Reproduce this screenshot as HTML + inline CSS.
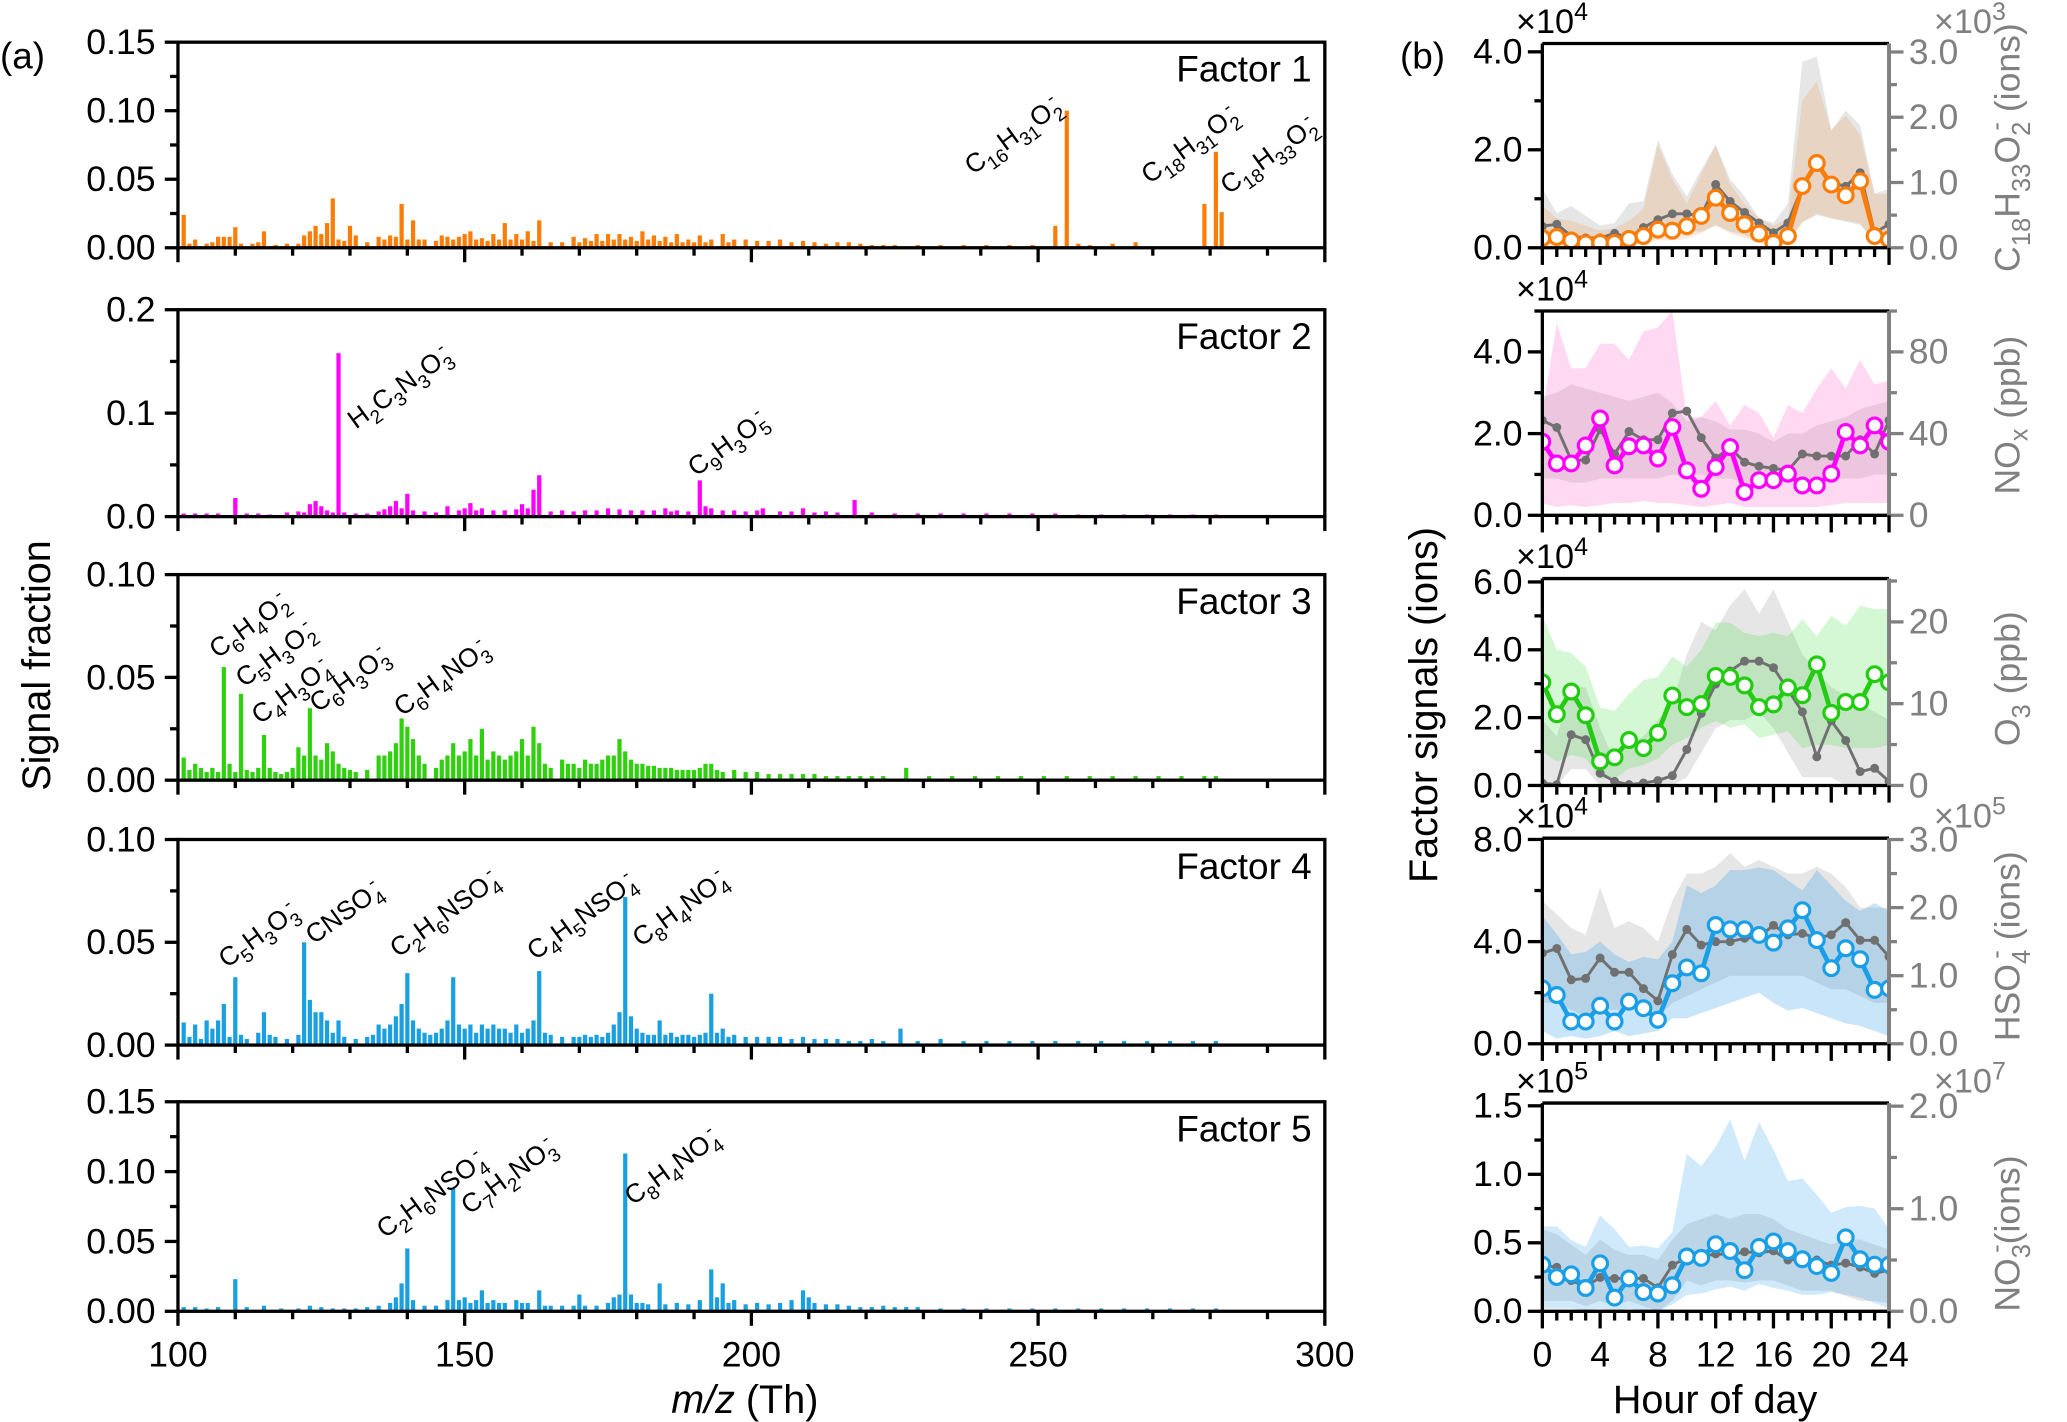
<!DOCTYPE html>
<html><head><meta charset="utf-8"><title>PMF factors</title>
<style>
html,body{margin:0;padding:0;background:#fff;}
svg{display:block;font-family:"Liberation Sans",Arial,sans-serif;}
</style></head>
<body>
<svg id="fig" width="2067" height="1422" viewBox="0 0 1568 1079" preserveAspectRatio="none" xmlns="http://www.w3.org/2000/svg">
<defs id="defs"></defs>
<text x="0" y="52" font-size="28">(a)</text>
<text x="1062" y="52" font-size="28">(b)</text>
<text transform="translate(38,505) rotate(-90)" text-anchor="middle" font-size="30">Signal fraction</text>
<text transform="translate(1090,535) rotate(-90)" text-anchor="middle" font-size="30">Factor signals (ions)</text>
<text x="565" y="1072" text-anchor="middle" font-size="30"><tspan font-style="italic">m/z</tspan> (Th)</text>
<text x="1301" y="1072" text-anchor="middle" font-size="30">Hour of day</text>
</svg>
<script>
// ---------- Panel (a) data: m/z and signal fraction ----------
const mz1 = [101,102,103,105,106,107,108,109,110,111,113,114,115,117,119,121,122,123,124,125,126,127,128,129,130,131,133,135,136,137,138,139,140,141,142,143,145,146,147,148,149,150,151,152,153,154,155,156,157,158,159,160,161,162,163,165,167,169,170,171,172,173,174,175,176,177,178,179,180,181,182,183,184,185,186,187,188,189,190,191,192,193,195,196,197,199,201,203,205,207,209,211,213,215,217,219,221,223,225,229,233,237,241,245,249,253,255,257,259,263,267,279,281,282];
const val1 = [.024,.003,.006,.003,.004,.008,.008,.008,.015,.003,.003,.004,.012,.002,.003,.003,.009,.012,.016,.01,.018,.036,.006,.005,.016,.009,.004,.008,.006,.009,.008,.032,.006,.02,.006,.006,.005,.009,.008,.006,.008,.01,.012,.006,.007,.005,.01,.006,.018,.006,.01,.006,.012,.005,.02,.004,.004,.008,.004,.007,.005,.01,.005,.01,.006,.01,.006,.008,.005,.012,.006,.009,.005,.008,.004,.01,.004,.006,.004,.009,.004,.006,.01,.004,.006,.006,.005,.005,.006,.004,.005,.004,.003,.004,.004,.003,.002,.002,.002,.002,.002,.002,.002,.002,.002,.016,.1,.003,.002,.003,.004,.032,.07,.026];
const mz2 = [101,103,105,107,110,112,114,116,119,121,122,123,124,125,126,127,128,129,131,133,135,136,137,138,139,140,141,143,145,147,149,150,151,152,153,155,157,159,160,161,162,163,165,167,169,171,173,175,177,179,181,183,185,186,187,189,191,192,193,195,197,199,201,202,205,207,209,211,213,215,218,221,225,229,233,237,241,245,249,253,257,261,265,269,273,277,281];
const val2 = [.003,.003,.003,.003,.018,.003,.003,.002,.004,.005,.004,.012,.015,.01,.006,.004,.158,.004,.003,.003,.005,.007,.01,.015,.008,.022,.006,.005,.004,.01,.006,.008,.013,.006,.008,.006,.006,.007,.012,.008,.026,.04,.005,.006,.005,.006,.006,.008,.007,.006,.006,.006,.008,.005,.006,.005,.035,.01,.008,.006,.006,.005,.006,.008,.005,.005,.008,.004,.005,.004,.016,.004,.003,.003,.003,.003,.003,.003,.003,.003,.002,.002,.002,.002,.002,.002,.002];
const mz3 = [101,102,103,104,105,106,107,108,109,110,111,112,113,114,115,116,117,118,119,120,121,122,123,124,125,126,127,128,129,130,131,133,135,136,137,138,139,140,141,142,143,145,146,147,148,149,150,151,152,153,154,155,156,157,158,159,160,161,162,163,164,165,167,168,169,170,171,172,173,174,175,176,177,178,179,180,181,182,183,184,185,186,187,188,189,190,191,192,193,194,195,197,199,201,203,205,207,209,211,213,215,217,219,221,223,227,231,235,239,243,247,251,255,259,263,267,271,275,279,281];
const val3 = [.011,.005,.008,.006,.004,.006,.004,.055,.008,.004,.042,.005,.004,.006,.022,.006,.004,.003,.004,.006,.016,.012,.035,.012,.01,.018,.014,.008,.006,.005,.004,.005,.012,.012,.014,.018,.03,.026,.02,.012,.008,.006,.01,.012,.018,.012,.014,.02,.012,.025,.01,.014,.012,.01,.012,.014,.02,.012,.026,.018,.008,.006,.01,.008,.008,.006,.01,.008,.008,.01,.012,.012,.02,.014,.01,.008,.008,.007,.007,.006,.006,.006,.005,.005,.005,.005,.006,.008,.008,.005,.004,.005,.004,.004,.003,.003,.003,.003,.003,.002,.002,.002,.002,.002,.002,.006,.002,.002,.002,.002,.002,.002,.002,.002,.002,.002,.002,.002,.002,.002];
const mz4 = [101,102,103,104,105,106,107,108,109,110,111,112,114,115,116,117,119,121,122,123,124,125,126,127,128,129,131,133,134,135,136,137,138,139,140,141,142,143,144,145,146,147,148,149,150,151,152,153,154,155,156,157,158,159,160,161,162,163,164,165,167,169,170,171,172,173,174,175,176,177,178,179,180,181,182,183,184,185,186,187,188,189,190,191,192,193,194,195,196,197,199,201,203,205,207,209,211,213,215,217,219,221,223,226,229,233,237,241,245,249,253,257,261,265,269,273,277,281];
const val4 = [.011,.004,.01,.003,.012,.008,.012,.02,.004,.033,.005,.003,.006,.016,.005,.004,.003,.005,.05,.022,.016,.016,.012,.006,.012,.004,.003,.004,.005,.01,.008,.01,.014,.02,.035,.012,.008,.006,.005,.006,.008,.012,.033,.01,.008,.01,.006,.01,.008,.01,.008,.008,.006,.01,.006,.008,.012,.036,.006,.005,.004,.004,.004,.005,.004,.005,.004,.006,.01,.016,.072,.014,.008,.006,.005,.005,.012,.005,.006,.004,.005,.005,.004,.005,.006,.025,.006,.008,.004,.005,.004,.004,.004,.004,.003,.004,.003,.003,.003,.002,.002,.003,.002,.008,.002,.003,.002,.002,.002,.002,.002,.002,.002,.002,.002,.002,.002,.002];
const mz5 = [101,103,105,107,110,112,115,118,121,123,125,127,129,131,133,135,137,138,139,140,141,143,145,147,148,149,150,151,152,153,154,155,156,157,159,160,161,163,164,165,167,169,170,171,173,175,176,177,178,179,180,181,182,184,185,187,189,191,193,194,195,196,197,199,201,203,205,207,209,210,211,213,215,217,219,221,223,225,227,229,233,237,241,245,249,253,257,261,265,269,273,277,281];
const val5 = [.003,.003,.002,.003,.023,.003,.004,.002,.002,.004,.003,.002,.002,.002,.003,.004,.006,.01,.02,.045,.008,.004,.004,.008,.088,.008,.01,.006,.008,.015,.006,.008,.006,.006,.008,.006,.006,.015,.004,.004,.004,.004,.012,.004,.004,.006,.01,.012,.113,.012,.006,.006,.005,.02,.005,.006,.005,.008,.03,.01,.02,.006,.008,.005,.006,.005,.006,.008,.015,.01,.006,.005,.005,.004,.003,.003,.004,.003,.003,.003,.002,.002,.002,.002,.002,.002,.002,.002,.002,.002,.002,.002,.002];
const mzTicks = [100,150,200,250,300];
const factorNames = ["Factor 1","Factor 2","Factor 3","Factor 4","Factor 5"];

// ---------- Panel (b) data: hour-of-day diurnal ----------
const hours = [0,1,2,3,4,5,6,7,8,9,10,11,12,13,14,15,16,17,18,19,20,21,22,23,24];
const hourTicks = [0,4,8,12,16,20,24];
const f1Mean = [.2,.22,.15,.09,.1,.1,.18,.24,.37,.35,.44,.65,1.02,.71,.48,.29,.1,.24,1.26,1.73,1.29,1.07,1.36,.24,.17];
const f1Lo = [.05,.05,0,0,0,0,.05,.1,.15,.15,.2,.3,.45,.3,.2,.1,0,.1,.5,.7,.6,.55,.5,.1,.1];
const f1Hi = [.85,.6,.55,.45,.35,.4,.55,.8,2.1,1.4,.9,1.5,2.1,1.3,.9,.6,.45,.6,3.0,3.4,2.4,2.7,2.3,1.1,1.1];
const t1Mean = [.33,.36,.18,.15,.15,.22,.15,.31,.43,.52,.52,.49,.97,.71,.54,.38,.23,.38,.94,1.3,1.0,.94,1.15,.23,.36];
const t1Lo = [.1,.1,.05,.05,.05,.05,.1,.15,.2,.2,.25,.25,.35,.25,.2,.1,.05,.1,.4,.5,.45,.4,.35,.1,.1];
const t1Hi = [.9,.53,.64,.49,.34,.38,.68,.71,1.65,1.13,.79,1.2,1.58,1.05,.79,.45,.38,.68,2.85,2.93,1.8,2.1,1.88,.83,.9];
const f2Mean = [1.8,1.27,1.27,1.71,2.37,1.22,1.69,1.71,1.39,2.16,1.1,.65,1.18,1.67,.57,.86,.86,1.02,.73,.73,1.02,2.04,1.71,2.2,1.8];
const f2Lo = [.3,.2,.25,.2,.25,.3,.3,.35,.3,.3,.25,.2,.25,.3,.2,.2,.2,.2,.2,.2,.25,.3,.3,.3,.3];
const f2Hi = [2.5,4.7,3.6,3.6,4.2,4.2,3.8,4.5,4.6,5.0,2.4,2.4,2.8,2.2,2.7,2.5,1.9,2.7,2.5,3.1,3.6,3.1,3.8,3.2,3.3];
const t2Mean = [46.5,43,27,27,42,30,41,37,37,50,51,38,28,33,26,24,23,22,30,29,29,29,37,30,46.5];
const t2Lo = [18,18,16,16,18,18,18,18,18,20,20,20,18,18,16,16,16,16,16,16,18,18,18,20,20];
const t2Hi = [58,60,64,62,60,58,56,58,60,55,46,48,46,42,42,40,36,40,40,44,46,48,52,54,56];
const f3Mean = [3.04,2.1,2.77,2.07,.71,.83,1.34,1.1,1.55,2.65,2.31,2.4,3.23,3.2,2.95,2.31,2.39,2.89,2.66,3.57,2.14,2.46,2.46,3.28,3.04];
const f3Lo = [1.0,.7,.9,.8,.2,.2,.5,.6,.8,1.2,1.4,1.7,1.9,1.7,1.8,1.4,1.5,1.6,1.1,1.2,1.2,1.1,1.1,1.1,1.2];
const f3Hi = [5.0,4.0,3.9,3.5,2.3,2.2,2.7,3.1,3.2,3.8,3.5,4.0,4.8,4.8,4.5,4.4,4.5,4.4,4.9,4.4,5.0,4.7,5.3,5.2,5.2];
const t3Mean = [.3,.1,6.2,5.6,1.5,.5,.1,.3,.6,1.2,4.4,8.8,12.4,14.0,15.2,15.2,14.4,11.7,9.0,3.5,7.9,5.5,1.7,2.1,.5];
const t3Lo = [0,0,2,2,0,0,0,0,0,0,1,4,7,8,8,9,7,4,1,1,1,0,0,0,0];
const t3Hi = [8,6,12,12,7,3,5,6,8,10,16,20,19,22,24,21,24,20,16,14,12,11,10,9,8];
const f4Mean = [2.17,1.91,.87,.87,1.49,.87,1.65,1.39,.94,2.37,2.99,2.76,4.65,4.48,4.48,4.26,3.96,4.52,5.23,4.06,2.96,3.74,3.31,2.11,2.17];
const f4Lo = [.5,.2,.3,.2,.3,.5,.3,.4,.5,1.0,1.0,1.2,1.4,1.6,1.8,2.0,1.6,1.3,1.4,1.2,1.0,.8,.7,.5,.3];
const f4Hi = [5.0,4.3,3.5,3.6,4.0,3.5,3.2,3.4,3.3,4.0,6.2,5.9,6.2,6.8,6.8,6.9,6.8,6.4,6.0,6.8,6.2,5.6,5.2,5.5,5.2];
const t4Mean = [1.33,1.4,.94,.96,1.26,1.05,1.05,.81,.63,1.31,1.68,1.45,1.5,1.5,1.55,1.57,1.74,1.6,1.62,1.55,1.6,1.78,1.52,1.52,1.28];
const t4Lo = [.6,.6,.5,.4,.5,.5,.5,.5,.4,.6,.7,.8,.9,1,1,1,1,1,1,.9,.8,.8,.7,.6,.6];
const t4Hi = [2.1,1.9,1.7,1.6,2.3,1.7,1.8,1.7,1.5,2.1,2.5,2.5,2.6,2.8,2.6,2.7,2.6,2.5,2.5,2.6,2.5,2.3,2.0,2.0,2.0];
const f5Mean = [.34,.25,.27,.17,.35,.1,.24,.14,.13,.19,.4,.39,.49,.44,.3,.47,.51,.44,.38,.33,.28,.54,.38,.34,.34];
const f5Lo = [.02,.02,.02,0,.02,0,.02,0,0,.05,.12,.13,.16,.18,.15,.2,.17,.15,.12,.12,.14,.12,.1,.06,.02];
const f5Hi = [.62,.62,.52,.47,.7,.6,.47,.48,.46,.58,1.15,1.06,1.2,1.4,1.1,1.38,1.18,.95,.97,.85,.72,.76,.77,.75,.6];
const t5Mean = [.45,.43,.3,.24,.33,.32,.32,.32,.23,.45,.52,.53,.56,.55,.58,.57,.59,.5,.51,.5,.45,.47,.43,.37,.4];
const t5Lo = [.1,.1,.1,.05,.1,.05,.1,.05,0,.1,.3,.25,.3,.3,.28,.3,.3,.25,.2,.2,.2,.15,.1,.1,.08];
const t5Hi = [.8,.75,.65,.55,.7,.6,.55,.55,.5,.7,.85,.9,.95,.9,.95,.95,.9,.8,.75,.7,.65,.7,.7,.65,.6];

const NS = "http://www.w3.org/2000/svg";
const svg = document.getElementById("fig");
const defs = document.getElementById("defs");
function mk(tag, attrs, parent) {
  const e = document.createElementNS(NS, tag);
  for (const k in attrs) e.setAttribute(k, attrs[k]);
  (parent || svg).appendChild(e);
  return e;
}
function formula(textEl, str, size) {
  let cur = 0, prevDigit = false;
  const re = /(\d+|-|[^\d-]+)/g; let m;
  while ((m = re.exec(str))) {
    const tok = m[1];
    const t = document.createElementNS(NS, "tspan");
    let target = 0;
    if (/^\d+$/.test(tok)) { target = 0.3 * size; t.setAttribute("font-size", 0.72 * size); }
    else if (tok === "-") { target = -0.42 * size; t.setAttribute("font-size", 0.72 * size); if (prevDigit) t.setAttribute("dx", -0.25 * size); }
    t.setAttribute("dy", target - cur);
    cur = target;
    t.textContent = tok;
    textEl.appendChild(t);
    prevDigit = /^\d+$/.test(tok);
  }
}

// ---------- Panel (a) ----------
const X0 = 135, X1 = 1005;
const xMz = v => X0 + (v - 100) * (X1 - X0) / 200;
const leftPanels = [
  {top:32, bot:188, max:.15, ticks:[0,.05,.10,.15], dec:2, mz:mz1, val:val1, color:"#fb7d07"},
  {top:235, bot:392, max:.2, ticks:[0,.1,.2], dec:1, mz:mz2, val:val2, color:"#ff00ff"},
  {top:436, bot:592, max:.10, ticks:[0,.05,.10], dec:2, mz:mz3, val:val3, color:"#2fd10f"},
  {top:637, bot:793, max:.10, ticks:[0,.05,.10], dec:2, mz:mz4, val:val4, color:"#1aa0e0"},
  {top:836, bot:995, max:.15, ticks:[0,.05,.10,.15], dec:2, mz:mz5, val:val5, color:"#1aa0e0"}
];
leftPanels.forEach((p, i) => {
  const g = mk("g", {});
  
  
  const y = v => p.bot - v * (p.bot - p.top) / p.max;
  p.mz.forEach((m, j) => {
    const b = mk("rect", {x: xMz(m) - 1.6, y: y(p.val[j]), width: 3.2, height: p.bot - y(p.val[j]), fill: p.color}, g);
    
    
  });
  const fr = mk("rect", {x: X0, y: p.top, width: X1 - X0, height: p.bot - p.top, fill: "none", stroke: "#000", "stroke-width": 2.5}, g);
  
  
  const step = p.ticks[1] - p.ticks[0];
  for (let v = 0; v <= p.max + 1e-9; v += step / 2) {
    const major = Math.abs(Math.round(v / step) * step - v) < 1e-9;
    mk("line", {x1: X0 - (major ? 10 : 6), x2: X0, y1: y(v), y2: y(v), stroke: "#000", "stroke-width": 2.5}, g);
  }
  p.ticks.forEach(v => {
    const t = mk("text", {x: X0 - 17, y: y(v) + 9, "text-anchor": "end", "font-size": 27}, g);
    
    
    t.textContent = v.toFixed(p.dec);
  });
  for (let m = 100; m <= 300; m += 10) {
    const major = m % 50 === 0;
    mk("line", {x1: xMz(m), x2: xMz(m), y1: p.bot, y2: p.bot + (major ? 11 : 6), stroke: "#000", "stroke-width": 2.5}, g);
  }
  const ft = mk("text", {x: 995, y: p.top + 30, "text-anchor": "end", "font-size": 28}, g);
  
  
  ft.textContent = factorNames[i];
});
mzTicks.forEach(m => {
  const t = mk("text", {x: xMz(m), y: 1037, "text-anchor": "middle", "font-size": 27});
  
  
  t.textContent = m;
});
const ions = [
  ["C16H31O2-",738,133],["C18H31O2-",872,140],["C18H33O2-",932,148],
  ["H2C3N3O3-",270,326],["C9H3O5-",528,362],
  ["C6H4O2-",165,500],["C5H3O2-",185,522],["C4H3O4-",197,550],["C6H3O3-",241,541],["C6H4NO3-",305,544],
  ["C5H3O3-",172,735],["CNSO4-",238,717],["C2H6NSO4-",302,727],["C4H5NSO4-",406,729],["C8H4NO4-",486,719],
  ["C2H6NSO4-",292,940],["C7H2NO3-",356,922],["C8H4NO4-",480,915]
];
ions.forEach(a => {
  const t = mk("text", {transform: "translate(" + a[1] + "," + a[2] + ") rotate(-36)", "font-size": 20});
  
  
  formula(t, a[0], 20);
});

// ---------- Panel (b) ----------
const H0 = 1170, H1 = 1433;
const xH = h => H0 + h * (H1 - H0) / 24;
const rightPanels = [
  {top:33, bot:188, lmax:4.17, rmax:3.13, lt:[0,2,4], lminor:1, ldec:1, rt:[0,1,2,3], rminor:.5, rdec:1, lexp:"4", rexp:"3",
   fm:f1Mean, fl:f1Lo, fh:f1Hi, tm:t1Mean, tl:t1Lo, th:t1Hi, color:"#fb7d07", band:"rgba(240,150,70,0.22)", title:"C18H33O2- (ions)", ty:112},
  {top:236, bot:391, lmax:5, rmax:100, lt:[0,2,4], lminor:1, ldec:1, rt:[0,40,80], rminor:20, rdec:0, lexp:"4", rexp:null,
   fm:f2Mean, fl:f2Lo, fh:f2Hi, tm:t2Mean, tl:t2Lo, th:t2Hi, color:"#ff00ff", band:"rgba(255,100,200,0.25)", title:"NOx (ppb)", ty:315},
  {top:439, bot:596, lmax:6.1, rmax:25.3, lt:[0,2,4,6], lminor:1, ldec:1, rt:[0,10,20], rminor:5, rdec:0, lexp:"4", rexp:null,
   fm:f3Mean, fl:f3Lo, fh:f3Hi, tm:t3Mean, tl:t3Lo, th:t3Hi, color:"#22cc11", band:"rgba(60,220,60,0.22)", title:"O3 (ppb)", ty:515},
  {top:636, bot:792, lmax:8.05, rmax:3.02, lt:[0,4,8], lminor:2, ldec:1, rt:[0,1,2,3], rminor:.5, rdec:1, lexp:"4", rexp:"5",
   fm:f4Mean, fl:f4Lo, fh:f4Hi, tm:t4Mean, tl:t4Lo, th:t4Hi, color:"#1a9fe6", band:"rgba(40,150,230,0.25)", title:"HSO4- (ions)", ty:718},
  {top:837, bot:995, lmax:1.52, rmax:2.03, lt:[0,.5,1,1.5], lminor:.25, ldec:1, rt:[0,1,2], rminor:.5, rdec:1, lexp:"5", rexp:"7",
   fm:f5Mean, fl:f5Lo, fh:f5Hi, tm:t5Mean, tl:t5Lo, th:t5Hi, color:"#1a9fe6", band:"rgba(40,160,235,0.22)", title:"NO3-(ions)", ty:936}
];
function bandPath(lo, hi, yf) {
  let d = "";
  hours.forEach((h, j) => { d += (j ? "L" : "M") + xH(h) + "," + yf(hi[j]); });
  for (let j = hours.length - 1; j >= 0; j--) d += "L" + xH(hours[j]) + "," + yf(lo[j]);
  return d + "Z";
}
function linePath(arr, yf) {
  return hours.map((h, j) => (j ? "L" : "M") + xH(h) + "," + yf(arr[j])).join("");
}
rightPanels.forEach((p, i) => {
  const g = mk("g", {});
  
  
  const cp = mk("clipPath", {id: "clip" + i}, defs);
  mk("rect", {x: H0, y: p.top, width: H1 - H0, height: p.bot - p.top}, cp);
  const yl = v => p.bot - v * (p.bot - p.top) / p.lmax;
  const yr = v => p.bot - v * (p.bot - p.top) / p.rmax;
  const cg = mk("g", {"clip-path": "url(#clip" + i + ")"}, g);
  const tb = mk("path", {d: bandPath(p.tl, p.th, yr), fill: "rgba(140,140,140,0.22)"}, cg);
  
  
  const fb = mk("path", {d: bandPath(p.fl, p.fh, yl), fill: p.band}, cg);
  
  
  const tl = mk("path", {d: linePath(p.tm, yr), fill: "none", stroke: "#707070", "stroke-width": 2.2}, cg);
  
  
  hours.forEach((h, j) => {
    const c = mk("circle", {cx: xH(h), cy: yr(p.tm[j]), r: 3.4, fill: "#707070"}, cg);
    
    
  });
  const fl = mk("path", {d: linePath(p.fm, yl), fill: "none", stroke: p.color, "stroke-width": 3.6}, cg);
  
  
  hours.forEach((h, j) => {
    const c = mk("circle", {cx: xH(h), cy: yl(p.fm[j]), r: 5.6, fill: "#fff", stroke: p.color, "stroke-width": 2.4}, cg);
    
    
  });
  mk("line", {x1: H0, x2: H1, y1: p.top, y2: p.top, stroke: "#000", "stroke-width": 2.5}, g);
  mk("line", {x1: H0, x2: H1, y1: p.bot, y2: p.bot, stroke: "#000", "stroke-width": 2.5}, g);
  mk("line", {x1: H0, x2: H0, y1: p.top, y2: p.bot, stroke: "#000", "stroke-width": 2.5}, g);
  mk("line", {x1: H1, x2: H1, y1: p.top, y2: p.bot + 1, stroke: "#808080", "stroke-width": 3}, g);
  for (let v = 0; v <= p.lmax + 1e-9; v += p.lminor) {
    const major = p.lt.some(t => Math.abs(t - v) < 1e-9);
    mk("line", {x1: H0 - (major ? 11 : 6), x2: H0, y1: yl(v), y2: yl(v), stroke: "#000", "stroke-width": 2.5}, g);
  }
  p.lt.forEach(v => {
    const t = mk("text", {x: H0 - 15, y: yl(v) + 9, "text-anchor": "end", "font-size": 27}, g);
    
    
    t.textContent = v.toFixed(p.ldec);
  });
  const le = mk("text", {x: 1150, y: p.top - 8, "font-size": 26}, g);
  
  
  le.textContent = "×10";
  const les = mk("tspan", {dy: -10, "font-size": 19}, le);
  les.textContent = p.lexp;
  for (let v = 0; v <= p.rmax + 1e-9; v += p.rminor) {
    const major = p.rt.some(t => Math.abs(t - v) < 1e-9);
    mk("line", {x1: H1, x2: H1 + (major ? 11 : 6), y1: yr(v), y2: yr(v), stroke: "#808080", "stroke-width": 2.5}, g);
  }
  p.rt.forEach(v => {
    const t = mk("text", {x: H1 + 15, y: yr(v) + 9, "font-size": 27, fill: "#808080"}, g);
    
    
    t.textContent = v.toFixed(p.rdec);
  });
  if (p.rexp) {
    const re = mk("text", {x: 1467, y: p.top - 8, "font-size": 26, fill: "#808080"}, g);
    
    
    re.textContent = "×10";
    const res = mk("tspan", {dy: -10, "font-size": 19}, re);
    res.textContent = p.rexp;
  }
  const rt = mk("text", {transform: "translate(1532," + p.ty + ") rotate(-90)", "text-anchor": "middle", "font-size": 27, fill: "#808080"}, g);
  
  
  if (p.title === "NOx (ppb)") {
    rt.textContent = "NO";
    const s = mk("tspan", {dy: 6, "font-size": 19}, rt); s.textContent = "x";
    const r = mk("tspan", {dy: -6}, rt); r.textContent = " (ppb)";
  } else formula(rt, p.title, 27);
  for (let h = 0; h <= 24; h++) {
    const major = h % 4 === 0;
    mk("line", {x1: xH(h), x2: xH(h), y1: p.bot, y2: p.bot + (major ? 13 : 7), stroke: "#000", "stroke-width": 2.5}, g);
  }
});
hourTicks.forEach(h => {
  const t = mk("text", {x: xH(h), y: 1037, "text-anchor": "middle", "font-size": 27});
  
  
  t.textContent = h;
});
</script>
</body></html>
